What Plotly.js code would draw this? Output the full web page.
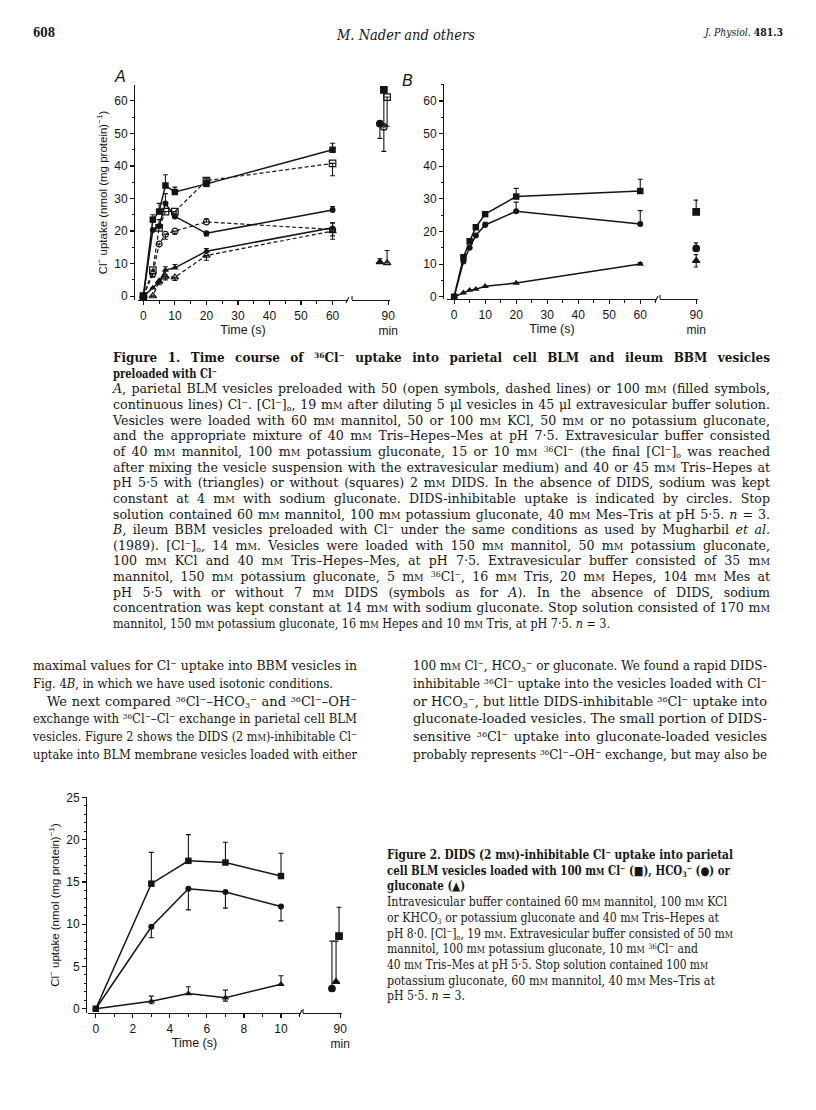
<!DOCTYPE html>
<html>
<head>
<meta charset="utf-8">
<script src="https://cdn.plot.ly/plotly-3.0.1.min.js"></script>
<style>
  body { margin: 0; background: #fff; }
  #page { position: relative; width: 816px; height: 1110px; overflow: hidden; background: #fff; }
  #plot { position: absolute; left: 0; top: 0; width: 816px; height: 1110px; }
  .ln { position: absolute; white-space: nowrap; font-family: "DejaVu Serif", "Liberation Serif", serif;
        color: #161616; transform-origin: 0 50%; }
  .ln sup { font-size: 0.62em; vertical-align: 0.55em; line-height: 0; }
  .ln sub { font-size: 0.62em; vertical-align: -0.25em; line-height: 0; }
  .sc { font-size: 0.74em; }
</style>
</head>
<body>
<div id="page">
  <div id="plot"></div>
</div>
<script>
// ---- Figure 1A: parietal BLM, time in s (0-60) + 90 min points
const timeA = [0, 3, 5, 7, 10, 20, 60];
const aSq100 = [0, 23.5, 26, 34, 32, 34.5, 45];       // filled squares, solid
const aSq100Up = [0, 1.5, 2.5, 3.3, 1.5, 1.5, 2];
const aSq50 = [0, 8, 21, 26, 26, 35.5, 40.8];         // open squares, dashed
const aSq50Up = [0, 0, 0, 0, 0, 0.8, 0];
const aSq50Dn = [0, 0, 0, 0, 0, 0, 3.8];
const aCi100 = [0, 20.3, 21.5, 28.5, 24.5, 19.3, 26.5]; // filled circles
const aCi100Up = [0, 0, 2, 3, 1, 0, 1];
const aCi100Dn = [0, 0, 0, 0, 0, 0.8, 0];
const aCi50 = [0, 6.8, 16, 19, 20, 22.8, 20.5];        // open circles
const aCi50Up = [0, 0, 0, 0, 0, 1, 2];
const aCi50Dn = [0, 1, 0, 1.5, 1, 0, 2];
const aTr100 = [0, 2.5, 4.5, 8, 8.7, 13.8, 21];        // filled triangles
const aTr100Up = [0, 0, 0, 1, 1, 0.8, 1.5];
const aTr100Dn = [0, 0, 1, 1.5, 0, 0, 0];
const aTr50 = [0, 0, 4.5, 6, 5.8, 12.5, 20];           // open triangles
const aTr50Dn = [0, 0, 0, 1, 1, 1.5, 2.5];
// 90 min: sq100, sq50, ci100, ci50, tr100, tr50
const a90Pos = [88.8, 89.7, 87.7, 88.8, 87.7, 89.7];
const a90Val = [63.4, 61.2, 53, 52, 10.5, 10.2];
const a90Up = [0, 0, 0, 0, 1, 3.8];
const a90Dn = [11, 9, 4.5, 7.5, 0, 0];

// ---- Figure 1B: ileum BBM
const timeB = [0, 3, 5, 7, 10, 20, 60];
const bSq = [0, 12.1, 17, 21.3, 25.3, 30.7, 32.4];
const bSqUp = [0, 0, 0, 0, 0.5, 2.5, 3.6];
const bCi = [0, 10.8, 15, 18.8, 22, 26.2, 22.3];
const bCiUp = [0, 0, 0, 0, 0.8, 2.8, 4.1];
const bTr = [0, 1.2, 2, 2.3, 3.2, 4.2, 10];
const bTrUp = [0, 0, 0, 0, 0, 0, 0.5];
// 90 min: sq, ci, tr
const b90Pos = [90, 90, 90];
const b90Val = [26, 14.8, 11];
const b90Up = [3.6, 1.7, 1.9];
const b90Dn = [0, 0, 1.9];

// ---- Figure 2: DIDS-inhibitable uptake, 0-10 s + 90 min
const time2 = [0, 3, 5, 7, 10];
const f2Sq = [0, 14.8, 17.5, 17.3, 15.7];
const f2SqUp = [0, 3.7, 3.1, 2.4, 2.7];
const f2Ci = [0, 9.7, 14.2, 13.8, 12.1];
const f2CiDn = [0, 1.3, 2.5, 1.9, 1.7];
const f2Tr = [0, 0.9, 1.8, 1.3, 2.9];
const f2TrUp = [0, 0.6, 0.8, 0.9, 1.0];
const f2TrDn = [0, 0.3, 0, 0.4, 0];
// 90 min: sq, ci, tr
const f290Pos = [89.7, 87.8, 88.9];
const f290Val = [8.6, 2.4, 3.2];
const f290Up = [3.4, 5.6, 4.8];

const INK = "#141414";
const zeros = n => new Array(n).fill(0);

function errs(up, dn) {
  return { type: "data", symmetric: false, array: up, arrayminus: dn,
           color: INK, thickness: 1.1, width: 2.5 };
}

function series(x, y, up, dn, xa, ya, symbol, dashed, size) {
  const open = symbol.endsWith("-open");
  return {
    type: "scatter", mode: "lines+markers", x, y, xaxis: xa, yaxis: ya,
    line: { color: INK, width: dashed ? 1.2 : 1.5, dash: dashed ? "4px,2.5px" : "solid" },
    marker: { symbol, size: size || 6.5, color: INK, line: { color: INK, width: open ? 1.2 : 0 } },
    error_y: errs(up || zeros(x.length), dn || zeros(x.length)),
    cliponaxis: false, hoverinfo: "skip", showlegend: false
  };
}

function points(x, y, up, dn, xa, ya, symbols) {
  return {
    type: "scatter", mode: "markers", x, y, xaxis: xa, yaxis: ya,
    marker: { symbol: symbols, size: 6.5, color: INK, line: { color: INK, width: 1.2 } },
    error_y: errs(up, dn), cliponaxis: false, hoverinfo: "skip", showlegend: false
  };
}

const traces = [
  series(timeA, aSq100, aSq100Up, null, "x", "y", "square", false),
  series(timeA, aSq50, aSq50Up, aSq50Dn, "x", "y", "square-open", true),
  series(timeA, aCi100, aCi100Up, aCi100Dn, "x", "y", "circle", false, 6),
  series(timeA, aCi50, aCi50Up, aCi50Dn, "x", "y", "circle-open", true, 6),
  series(timeA, aTr100, aTr100Up, aTr100Dn, "x", "y", "triangle-up", false),
  series(timeA, aTr50, null, aTr50Dn, "x", "y", "triangle-up-open", true),
  points(a90Pos, a90Val, a90Up, a90Dn, "x2", "y",
         ["square", "square-open", "circle", "circle-open", "triangle-up", "triangle-up-open"]),

  series(timeB, bSq, bSqUp, null, "x3", "y2", "square", false),
  series(timeB, bCi, bCiUp, null, "x3", "y2", "circle", false, 6),
  series(timeB, bTr, bTrUp, null, "x3", "y2", "triangle-up", false),
  points(b90Pos, b90Val, b90Up, b90Dn, "x4", "y2", ["square", "circle", "triangle-up"]),

  series(time2, f2Sq, f2SqUp, null, "x5", "y3", "square", false),
  series(time2, f2Ci, null, f2CiDn, "x5", "y3", "circle", false, 6),
  series(time2, f2Tr, f2TrUp, f2TrDn, "x5", "y3", "triangle-up", false),
  points(f290Pos, f290Val, f290Up, zeros(3), "x6", "y3", ["square", "circle", "triangle-up"])
];

const W = 816, H = 1110;
const px = v => v / W;
const py = v => 1 - v / H;
const AXFONT = { family: "Liberation Sans, Arial, sans-serif", size: 12, color: INK };

function ax(extra) {
  return Object.assign({
    showline: true, linecolor: INK, linewidth: 1.2, ticks: "outside", ticklen: 4,
    tickwidth: 1.1, tickcolor: INK, showgrid: false, zeroline: false,
    tickfont: AXFONT, fixedrange: true
  }, extra);
}
const minor = d => ({ ticks: "outside", ticklen: 2.5, dtick: d, tick0: 0, tickcolor: INK, tickwidth: 1 });
const timeTitle = { text: "Time (s)", font: { family: AXFONT.family, size: 12.5, color: INK }, standoff: 3 };
const yTitle = { text: "Cl<sup>−</sup> uptake (nmol (mg protein)<sup>−1</sup>)",
                 font: { family: AXFONT.family, size: 11.5, color: INK }, standoff: 3 };
const ninety = { tickmode: "array", tickvals: [90], ticktext: ["90<br>min"], range: [80, 90.5] };

// little break marks where the time axis jumps to 90 min (page pixels)
function breakMarks(xEnd, xStart, yAxis) {
  const ln = { color: INK, width: 1.1 };
  return [
    { type: "line", xref: "paper", yref: "paper", x0: px(xEnd - 2), x1: px(xEnd + 1),
      y0: py(yAxis + 3), y1: py(yAxis - 3), line: ln },
    { type: "line", xref: "paper", yref: "paper", x0: px(xStart), x1: px(xStart),
      y0: py(yAxis), y1: py(yAxis - 4), line: ln }
  ];
}

const layout = {
  width: W, height: H, margin: { l: 0, r: 0, t: 0, b: 0 },
  paper_bgcolor: "rgba(0,0,0,0)", plot_bgcolor: "rgba(0,0,0,0)", showlegend: false,
  font: AXFONT,
  xaxis: ax({ domain: [px(138), px(348)], anchor: "y", range: [-1.7, 64.9], dtick: 10, tick0: 0,
              minor: minor(5), title: timeTitle }),
  yaxis: ax({ domain: [py(300), py(85)], anchor: "free", position: px(134), range: [-1.2, 64.9],
              dtick: 10, tick0: 0, minor: minor(5), title: yTitle }),
  xaxis2: ax(Object.assign({ domain: [px(352), px(390)], anchor: "y" }, ninety)),

  xaxis3: ax({ domain: [px(447), px(657)], anchor: "y2", range: [-2.3, 65.4], dtick: 10, tick0: 0,
               minor: minor(5), title: timeTitle }),
  yaxis2: ax({ domain: [py(299), py(84)], anchor: "free", position: px(443), range: [-0.7, 65.2],
               dtick: 10, tick0: 0, minor: minor(5) }),
  xaxis4: ax(Object.assign({ domain: [px(660), px(698)], anchor: "y2" }, ninety)),

  xaxis5: ax({ domain: [px(88), px(301)], anchor: "y3", range: [-0.42, 11.08], dtick: 2, tick0: 0,
               minor: minor(1), title: timeTitle }),
  yaxis3: ax({ domain: [py(1013), py(797)], anchor: "free", position: px(86), range: [-0.5, 25.05],
               dtick: 5, tick0: 0, minor: minor(1), title: yTitle }),
  xaxis6: ax(Object.assign({ domain: [px(303), px(342)], anchor: "y3" }, ninety)),

  shapes: [].concat(breakMarks(348, 352, 300), breakMarks(657, 660, 299), breakMarks(301, 303, 1013)),

  annotations: [
    { xref: "paper", yref: "paper", x: px(120), y: py(77), xanchor: "center", yanchor: "middle",
      text: "<i>A</i>", showarrow: false,
      font: { family: "Liberation Sans, Arial, sans-serif", size: 16, color: INK } },
    { xref: "paper", yref: "paper", x: px(407), y: py(80), xanchor: "center", yanchor: "middle",
      text: "<i>B</i>", showarrow: false,
      font: { family: "Liberation Sans, Arial, sans-serif", size: 16, color: INK } }
  ]
};

Plotly.newPlot("plot", traces, layout, { staticPlot: true });

// ---- page text (one div per printed line, fitted to the printed width)
const page = document.getElementById("page");
const SC = s => s.replace(/\bmM\b/g, 'm<span class="sc">M</span>');
const CL = "Cl<sup>−</sup>";
const CL36 = "<sup>36</sup>Cl<sup>−</sup>";
const CLO = "[Cl<sup>−</sup>]<sub>o</sub>";
const HCO3 = "HCO<sub>3</sub><sup>−</sup>";

function fit(el, target) {
  if (!target) return;
  const w = el.getBoundingClientRect().width;
  if (w > target) {
    el.style.transform = "scaleX(" + (target / w) + ")";
  } else {
    const n = (el.textContent.match(/ /g) || []).length;
    if (n) el.style.wordSpacing = ((target - w) / n) + "px";
  }
}

function block(lines, o) {
  lines.forEach((ln, i) => {
    const d = document.createElement("div");
    const bold = o.boldRows && i < o.boldRows;
    d.className = "ln";
    d.style.left = (ln[1] !== undefined ? ln[1] : o.x) + "px";
    d.style.top = (o.y0 + i * o.dy - o.lh / 2) + "px";
    d.style.lineHeight = o.lh + "px";
    d.style.fontSize = (bold && o.boldSize ? o.boldSize : o.size) + "px";
    if (bold) d.style.fontWeight = "bold";
    if (o.italic) d.style.fontStyle = "italic";
    d.innerHTML = SC(ln[0]);
    page.appendChild(d);
    fit(d, ln[2] !== undefined ? ln[2] : o.w);
  });
}

// header
block([["608", 33, 22]], { y0: 33, dy: 0, lh: 18, size: 13, boldRows: 1 });
block([["M. Nader and others", 337, 138]], { y0: 35, dy: 0, lh: 20, size: 15, italic: true });
block([["<i>J. Physiol.</i> <b>481.3</b>", 705, 78]], { y0: 33, dy: 0, lh: 16, size: 11 });

// Figure 1 legend
block([
  ["Figure 1. Time course of " + CL36 + " uptake into parietal cell BLM and ileum BBM vesicles"],
  ["preloaded with " + CL, undefined, 104],
  ["<i>A</i>, parietal BLM vesicles preloaded with 50 (open symbols, dashed lines) or 100 mM (filled symbols,"],
  ["continuous lines) " + CL + ". " + CLO + ", 19 mM after diluting 5 μl vesicles in 45 μl extravesicular buffer solution."],
  ["Vesicles were loaded with 60 mM mannitol, 50 or 100 mM KCl, 50 mM or no potassium gluconate,"],
  ["and the appropriate mixture of 40 mM Tris–Hepes–Mes at pH 7·5. Extravesicular buffer consisted"],
  ["of 40 mM mannitol, 100 mM potassium gluconate, 15 or 10 mM " + CL36 + " (the final " + CLO + " was reached"],
  ["after mixing the vesicle suspension with the extravesicular medium) and 40 or 45 mM Tris–Hepes at"],
  ["pH 5·5 with (triangles) or without (squares) 2 mM DIDS. In the absence of DIDS, sodium was kept"],
  ["constant at 4 mM with sodium gluconate. DIDS-inhibitable uptake is indicated by circles. Stop"],
  ["solution contained 60 mM mannitol, 100 mM potassium gluconate, 40 mM Mes–Tris at pH 5·5. <i>n</i> = 3."],
  ["<i>B</i>, ileum BBM vesicles preloaded with " + CL + " under the same conditions as used by Mugharbil <i>et al.</i>"],
  ["(1989). " + CLO + ", 14 mM. Vesicles were loaded with 150 mM mannitol, 50 mM potassium gluconate,"],
  ["100 mM KCl and 40 mM Tris–Hepes–Mes, at pH 7·5. Extravesicular buffer consisted of 35 mM"],
  ["mannitol, 150 mM potassium gluconate, 5 mM " + CL36 + ", 16 mM Tris, 20 mM Hepes, 104 mM Mes at"],
  ["pH 5·5 with or without 7 mM DIDS (symbols as for <i>A</i>). In the absence of DIDS, sodium"],
  ["concentration was kept constant at 14 mM with sodium gluconate. Stop solution consisted of 170 mM"],
  ["mannitol, 150 mM potassium gluconate, 16 mM Hepes and 10 mM Tris, at pH 7·5. <i>n</i> = 3.", undefined, 497]
], { x: 113, w: 657, y0: 358, dy: 15.65, lh: 16, size: 12.6, boldSize: 12, boldRows: 2 });

// body text, left column
block([
  ["maximal values for " + CL + " uptake into BBM vesicles in"],
  ["Fig. 4<i>B</i>, in which we have used isotonic conditions.", undefined, 300],
  ["We next compared " + CL36 + "–" + HCO3 + " and " + CL36 + "–OH<sup>−</sup>", 47, 310],
  ["exchange with " + CL36 + "–" + CL + " exchange in parietal cell BLM"],
  ["vesicles. Figure 2 shows the DIDS (2 mM)-inhibitable " + CL],
  ["uptake into BLM membrane vesicles loaded with either"]
], { x: 33, w: 324, y0: 666, dy: 17.75, lh: 18, size: 13 });

// body text, right column
block([
  ["100 mM " + CL + ", " + HCO3 + " or gluconate. We found a rapid DIDS-"],
  ["inhibitable " + CL36 + " uptake into the vesicles loaded with " + CL],
  ["or " + HCO3 + ", but little DIDS-inhibitable " + CL36 + " uptake into"],
  ["gluconate-loaded vesicles. The small portion of DIDS-"],
  ["sensitive " + CL36 + " uptake into gluconate-loaded vesicles"],
  ["probably represents " + CL36 + "–OH<sup>−</sup> exchange, but may also be"]
], { x: 413, w: 354, y0: 666, dy: 17.75, lh: 18, size: 13 });

// Figure 2 legend
block([
  ["Figure 2. DIDS (2 mM)-inhibitable " + CL + " uptake into parietal", undefined, 346],
  ["cell BLM vesicles loaded with 100 mM " + CL + " (■), " + HCO3 + " (●) or", undefined, 343],
  ["gluconate (▲)", undefined, 78],
  ["Intravesicular buffer contained 60 mM mannitol, 100 mM KCl", undefined, 340],
  ["or KHCO<sub>3</sub> or potassium gluconate and 40 mM Tris–Hepes at", undefined, 332],
  ["pH 8·0. " + CLO + ", 19 mM. Extravesicular buffer consisted of 50 mM", undefined, 346],
  ["mannitol, 100 mM potassium gluconate, 10 mM " + CL36 + " and", undefined, 311],
  ["40 mM Tris–Mes at pH 5·5. Stop solution contained 100 mM", undefined, 321],
  ["potassium gluconate, 60 mM mannitol, 40 mM Mes–Tris at", undefined, 328],
  ["pH 5·5. <i>n</i> = 3.", undefined, 78]
], { x: 387, y0: 855, dy: 15.7, lh: 16, size: 12, boldRows: 3 });
</script>
</body>
</html>
